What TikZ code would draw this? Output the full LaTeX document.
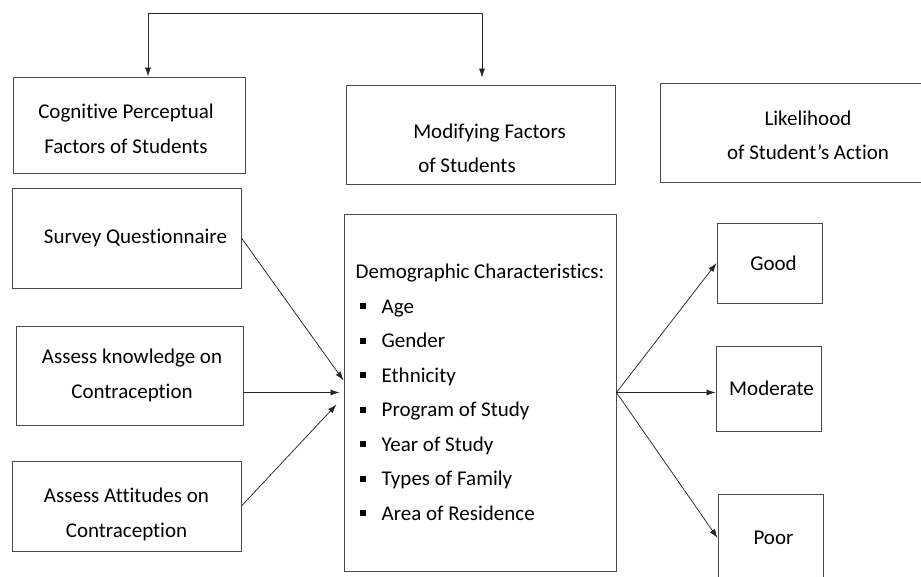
\documentclass[tikz,border=0pt]{standalone}
\usepackage{fontspec}
\setmainfont{Carlito}[Ligatures=NoCommon]
\usepackage{tikz}
\usetikzlibrary{positioning,arrows.meta}
\definecolor{boxgray}{HTML}{4A4A4A}
\newcommand{\sqitem}[1]{\hspace*{4pt}\makebox[22pt][l]{\rule[4pt]{6pt}{6pt}}#1}
% text block moved down inside its box by #1
\newcommand{\lowtext}[3]{\raisebox{\dimexpr-5.25pt-#1\relax}[0pt][0pt]{%
  \begin{tabular}{@{}#2@{}}#3\end{tabular}}}

\begin{document}
\begin{tikzpicture}[x=1pt,y=-1pt,>={Latex[length=9pt,width=6pt]},
                    every edge/.style={draw,->,line width=0.75pt,black!85},
                    box/.style={draw=boxgray,line width=0.9pt,inner sep=0pt,
                                align=center,font=\fontsize{21}{34.5}\selectfont}]

  \useasboundingbox (0,0) rectangle (921,577);

  % header row
  \node[box,minimum width=232pt,minimum height=96pt] (cog) at (129,125)
       {\lowtext{4pt}{c}{Cognitive Perceptual\\Factors of Students}\hspace*{6pt}};
  \node[box,minimum width=269pt,minimum height=99pt] (modf) at (480.5,134.5)
       {\hspace*{18pt}\lowtext{14pt}{l}{Modifying Factors\\\hspace*{5pt}of Students}};
  \node[box,minimum width=296pt,minimum height=99pt] (likely) at (808,132.5)
       {\lowtext{3pt}{c}{Likelihood\\of Student's Action}};

  % left column
  \node[box,minimum width=229pt,minimum height=100pt] (survey) at (126.5,238)
       {\hspace*{18pt}Survey Questionnaire};
  \node[box,minimum width=227pt,minimum height=99pt] (know) at (129.5,375.5)
       {\hspace*{5pt}Assess knowledge on\\\hspace*{5pt}Contraception};
  \node[box,minimum width=229pt,minimum height=90pt] (att) at (126.5,506)
       {\lowtext{7pt}{c}{Assess Attitudes on\\Contraception}};

  % middle
  \node[box,minimum width=272pt,minimum height=357pt,align=left] (demo) at (480,392.5)
       {Demographic Characteristics:\\
        \sqitem{Age}\\
        \sqitem{Gender}\\
        \sqitem{Ethnicity}\\
        \sqitem{Program of Study}\\
        \sqitem{Year of Study}\\
        \sqitem{Types of Family}\\
        \sqitem{Area of Residence}};

  % right column
  \node[box,minimum width=105pt,minimum height=80pt] (good) at (769.5,263) {\hspace*{8pt}Good};
  \node[box,minimum width=105pt,minimum height=85pt] (moderate) at (768.5,388.5) {\hspace*{6pt}Moderate};
  \node[box,minimum width=105pt,minimum height=88pt] (poor) at (770.5,538) {\hspace*{6pt}Poor};

  \coordinate (topL) at (148,13);
  \coordinate (topR) at (482,13);
  \draw[<->,line width=0.75pt,black!85] (cog.north -| topL) -- (topL) -- (topR)
       -- ([yshift=7pt]modf.north -| topR);

  \path (survey.east) edge ([yshift=12pt]demo.west)
        ([yshift=-17pt]know.east) edge ([xshift=-4pt]demo.west)
        (att.east) edge ([xshift=-7pt,yshift=-12pt]demo.west)
        (demo.east) edge (good.west)
        (demo.east) edge ([yshift=-4pt]moderate.west)
        (demo.east) edge (poor.west)
        ;
\end{tikzpicture}
\end{document}
